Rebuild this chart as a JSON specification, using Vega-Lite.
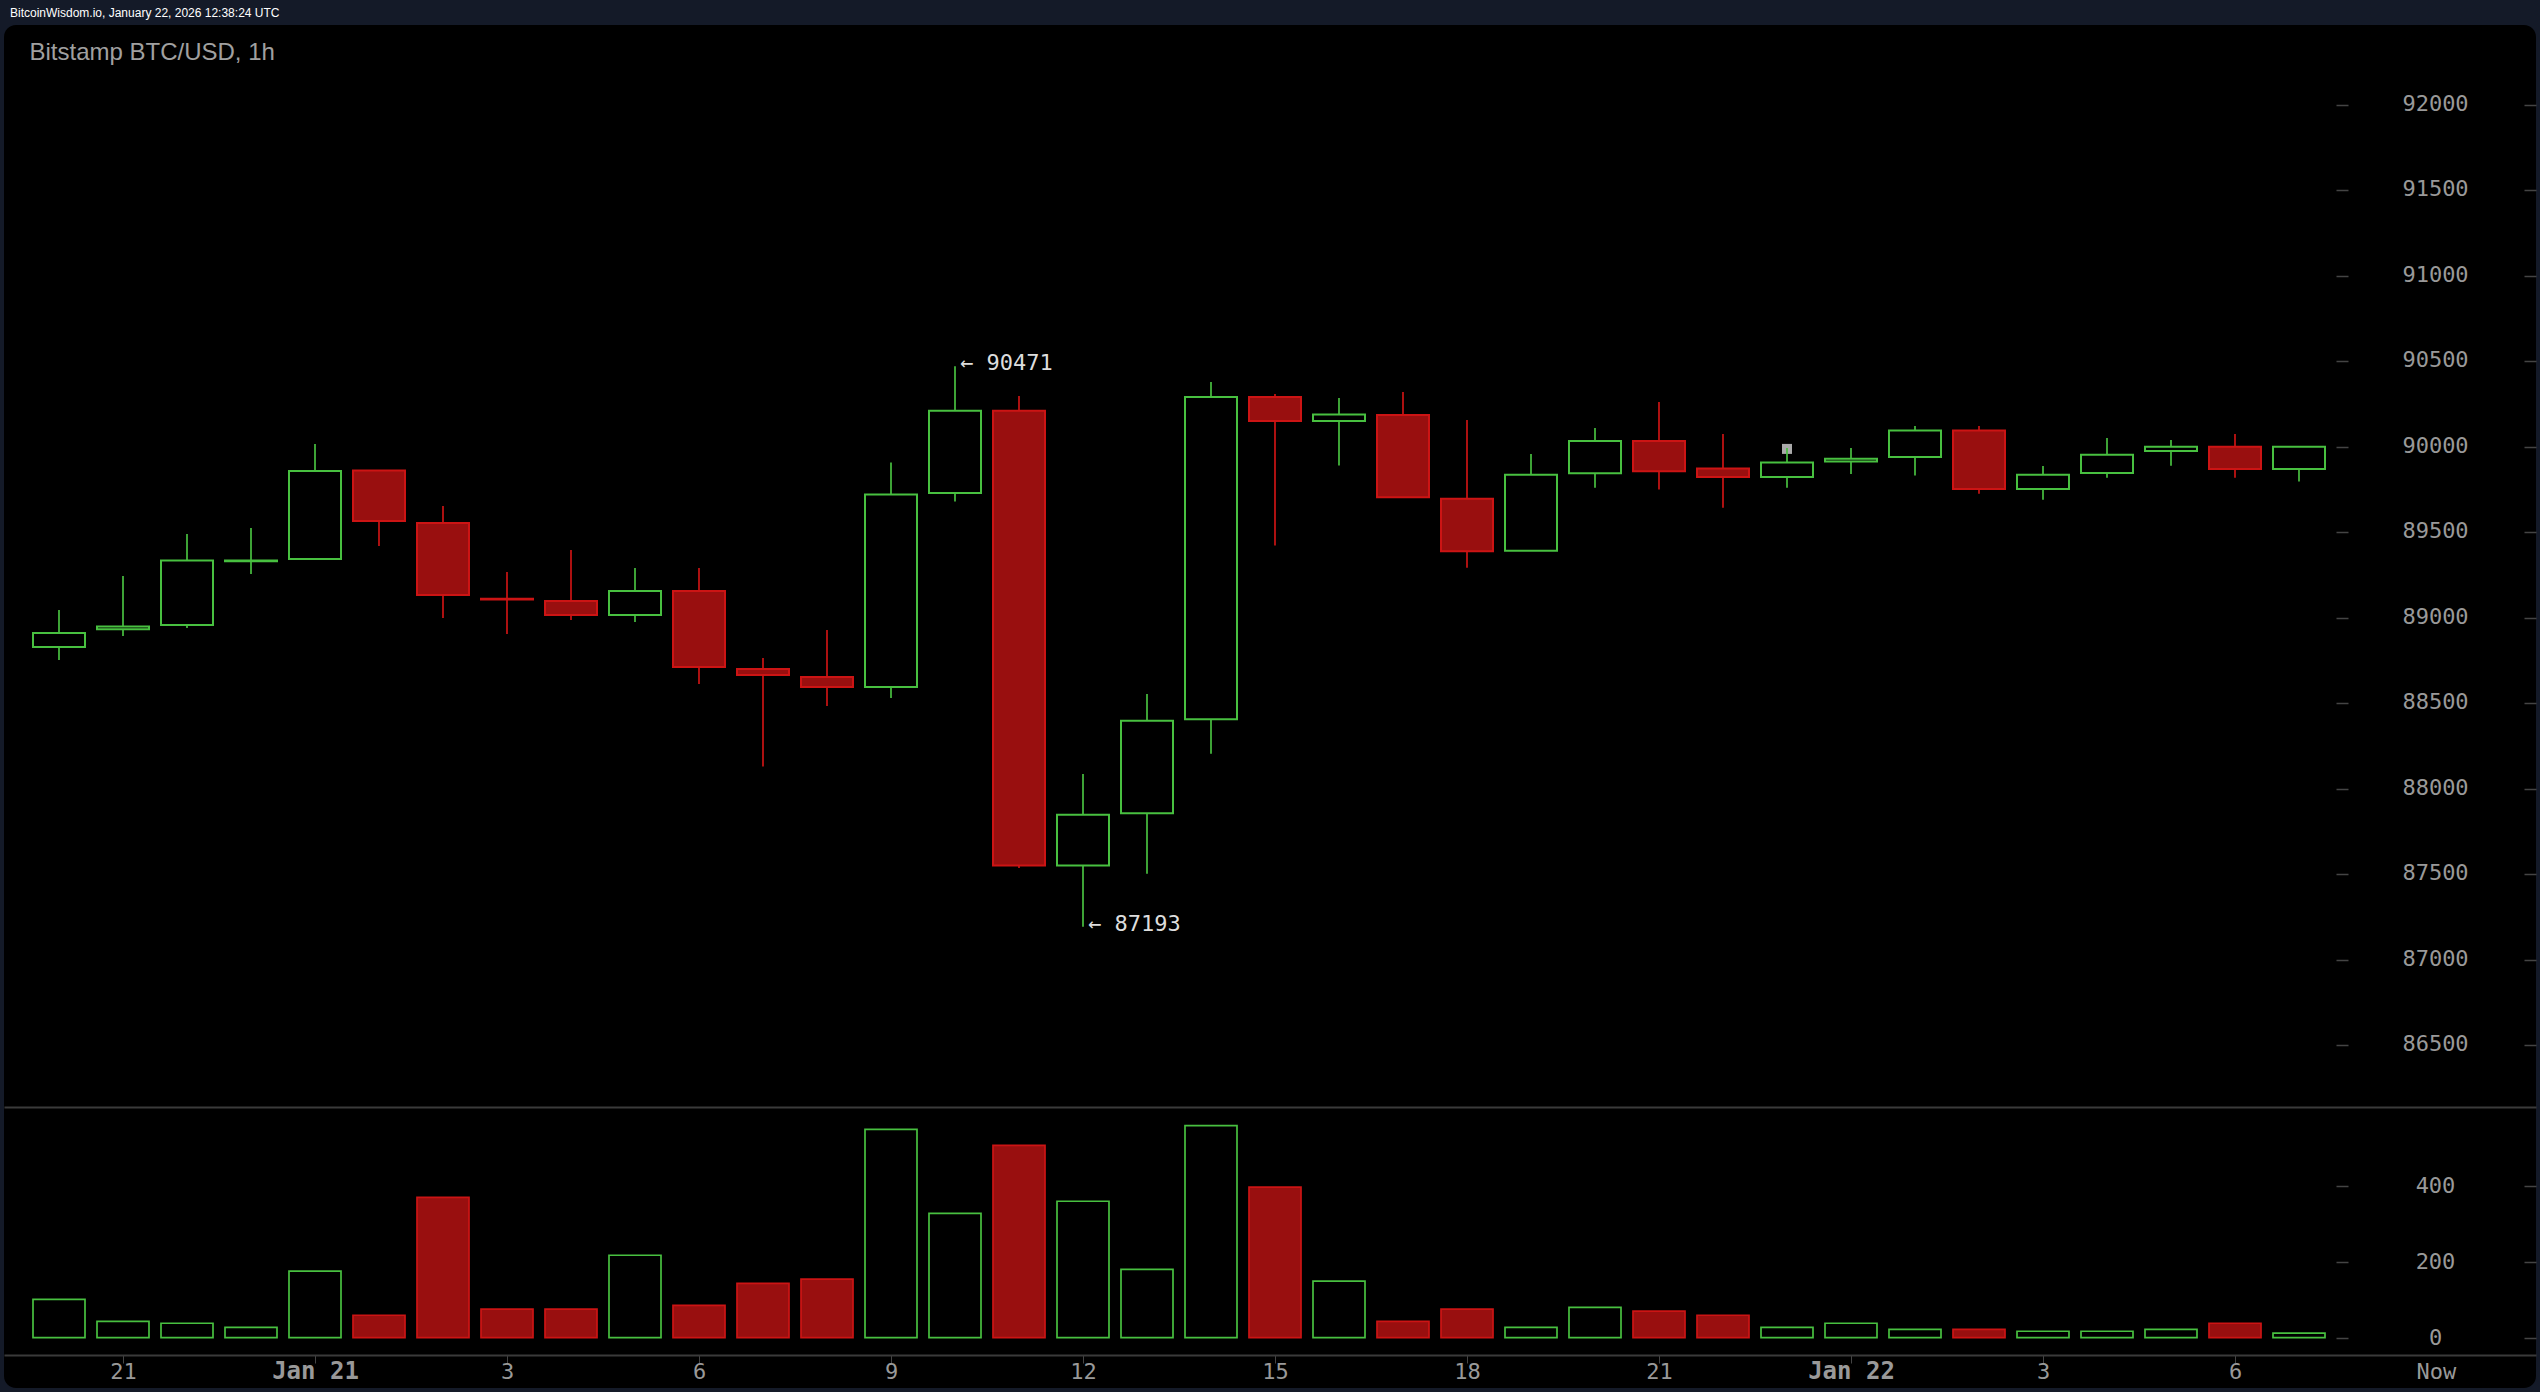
{
  "$schema": "https://vega.github.io/schema/vega-lite/v6.json",
  "autosize": "none",
  "width": 2532,
  "height": 1363,
  "padding": {"left": 4, "top": 25, "right": 4, "bottom": 4},
  "background": "#141a28",
  "view": {"fill": "#000000", "stroke": null, "cornerRadius": 12},
  "title": {
    "text": "BitcoinWisdom.io, January 22, 2026 12:38:24 UTC",
    "anchor": "start",
    "frame": "group",
    "font": "Liberation Sans",
    "fontSize": 12,
    "fontWeight": "normal",
    "color": "#ffffff",
    "dx": 6,
    "offset": 5
  },
  "config": {
    "font": "DejaVu Sans Mono",
    "axis": {"grid": false, "domain": false, "labelFont": "DejaVu Sans Mono", "labelOverlap": false, "labelBound": false, "labelFlush": false}
  },
  "datasets": {
    "candles": [
      {"t": "2026-01-20T20:00:00Z", "open": 88829, "high": 89045, "low": 88753, "close": 88911, "volume": 101},
      {"t": "2026-01-20T21:00:00Z", "open": 88932, "high": 89244, "low": 88893, "close": 88948, "volume": 43},
      {"t": "2026-01-20T22:00:00Z", "open": 88957, "high": 89489, "low": 88940, "close": 89334, "volume": 38},
      {"t": "2026-01-20T23:00:00Z", "open": 89330, "high": 89525, "low": 89256, "close": 89334, "volume": 27},
      {"t": "2026-01-21T00:00:00Z", "open": 89343, "high": 90016, "low": 89343, "close": 89858, "volume": 175},
      {"t": "2026-01-21T01:00:00Z", "open": 89860, "high": 89860, "low": 89419, "close": 89566, "volume": 59},
      {"t": "2026-01-21T02:00:00Z", "open": 89554, "high": 89653, "low": 88998, "close": 89133, "volume": 369},
      {"t": "2026-01-21T03:00:00Z", "open": 89111, "high": 89267, "low": 88905, "close": 89107, "volume": 75},
      {"t": "2026-01-21T04:00:00Z", "open": 89098, "high": 89396, "low": 88987, "close": 89016, "volume": 75},
      {"t": "2026-01-21T05:00:00Z", "open": 89016, "high": 89291, "low": 88975, "close": 89156, "volume": 217},
      {"t": "2026-01-21T06:00:00Z", "open": 89156, "high": 89291, "low": 88612, "close": 88712, "volume": 85},
      {"t": "2026-01-21T07:00:00Z", "open": 88700, "high": 88764, "low": 88130, "close": 88665, "volume": 143},
      {"t": "2026-01-21T08:00:00Z", "open": 88653, "high": 88928, "low": 88484, "close": 88595, "volume": 154},
      {"t": "2026-01-21T09:00:00Z", "open": 88594, "high": 89908, "low": 88531, "close": 89720, "volume": 548},
      {"t": "2026-01-21T10:00:00Z", "open": 89729, "high": 90471, "low": 89680, "close": 90210, "volume": 327},
      {"t": "2026-01-21T11:00:00Z", "open": 90210, "high": 90297, "low": 87536, "close": 87551, "volume": 506},
      {"t": "2026-01-21T12:00:00Z", "open": 87551, "high": 88086, "low": 87193, "close": 87847, "volume": 359},
      {"t": "2026-01-21T13:00:00Z", "open": 87856, "high": 88554, "low": 87502, "close": 88397, "volume": 180},
      {"t": "2026-01-21T14:00:00Z", "open": 88406, "high": 90378, "low": 88205, "close": 90290, "volume": 558},
      {"t": "2026-01-21T15:00:00Z", "open": 90290, "high": 90308, "low": 89422, "close": 90150, "volume": 396},
      {"t": "2026-01-21T16:00:00Z", "open": 90150, "high": 90284, "low": 89890, "close": 90188, "volume": 149},
      {"t": "2026-01-21T17:00:00Z", "open": 90185, "high": 90320, "low": 89704, "close": 89704, "volume": 43},
      {"t": "2026-01-21T18:00:00Z", "open": 89695, "high": 90156, "low": 89292, "close": 89389, "volume": 75},
      {"t": "2026-01-21T19:00:00Z", "open": 89391, "high": 89957, "low": 89391, "close": 89836, "volume": 27},
      {"t": "2026-01-21T20:00:00Z", "open": 89845, "high": 90109, "low": 89760, "close": 90033, "volume": 80},
      {"t": "2026-01-21T21:00:00Z", "open": 90033, "high": 90261, "low": 89749, "close": 89856, "volume": 70},
      {"t": "2026-01-21T22:00:00Z", "open": 89872, "high": 90074, "low": 89643, "close": 89823, "volume": 59},
      {"t": "2026-01-21T23:00:00Z", "open": 89823, "high": 89992, "low": 89760, "close": 89907, "volume": 27},
      {"t": "2026-01-22T00:00:00Z", "open": 89914, "high": 89992, "low": 89840, "close": 89930, "volume": 38},
      {"t": "2026-01-22T01:00:00Z", "open": 89940, "high": 90121, "low": 89831, "close": 90094, "volume": 22},
      {"t": "2026-01-22T02:00:00Z", "open": 90094, "high": 90121, "low": 89725, "close": 89753, "volume": 22},
      {"t": "2026-01-22T03:00:00Z", "open": 89753, "high": 89887, "low": 89690, "close": 89836, "volume": 17},
      {"t": "2026-01-22T04:00:00Z", "open": 89846, "high": 90051, "low": 89819, "close": 89953, "volume": 17},
      {"t": "2026-01-22T05:00:00Z", "open": 89975, "high": 90039, "low": 89889, "close": 90000, "volume": 22},
      {"t": "2026-01-22T06:00:00Z", "open": 90000, "high": 90074, "low": 89819, "close": 89870, "volume": 38},
      {"t": "2026-01-22T07:00:00Z", "open": 89870, "high": 90000, "low": 89796, "close": 90000, "volume": 12}
    ],
    "extremes": [
      {"t": "2026-01-21T10:00:00Z", "price": 90471, "label": "← 90471"},
      {"t": "2026-01-21T12:00:00Z", "price": 87193, "label": "← 87193"}
    ],
    "marker": [
      {"t": "2026-01-21T23:00:00Z", "price": 89987}
    ]
  },
  "data": {"name": "candles"},
  "encoding": {
    "x": {
      "field": "t",
      "type": "temporal",
      "scale": {"type": "utc", "domain": [1768936106250, 1769078531250], "nice": false, "padding": 0},
      "axis": null
    }
  },
  "layer": [
    {
      "data": {"name": "marker"},
      "mark": {"type": "square", "size": 100, "color": "#aaaaaa", "opacity": 1},
      "encoding": {
        "y": {"field": "price", "type": "quantitative", "scale": {"domain": [84495.2, 92466], "nice": false, "zero": false}, "axis": null}
      }
    },
    {
      "mark": {"type": "rule", "strokeWidth": 1.7},
      "encoding": {
        "x": {
          "field": "t",
          "type": "temporal",
          "scale": {"type": "utc", "domain": [1768936106250, 1769078531250], "nice": false, "padding": 0},
          "axis": {
            "orient": "bottom",
            "offset": -281,
            "domain": true,
            "domainColor": "#3a3a3a",
            "domainWidth": 2,
            "ticks": false,
            "labels": false,
            "title": "Bitstamp BTC/USD, 1h",
            "titleFont": "Liberation Sans",
            "titleFontSize": 24,
            "titleFontWeight": "normal",
            "titleColor": "#a0a0a0",
            "titleAngle": 0,
            "titleAlign": "left",
            "titleBaseline": "middle",
            "titleX": 25,
            "titleY": -1055
          }
        },
        "y": {
          "field": "low",
          "type": "quantitative",
          "scale": {"domain": [84495.2, 92466], "nice": false, "zero": false},
          "axis": {
            "orient": "right",
            "offset": -12,
            "values": [86500, 87000, 87500, 88000, 88500, 89000, 89500, 90000, 90500, 91000, 91500, 92000],
            "format": "d",
            "title": null,
            "tickSize": 12,
            "tickColor": "#444444",
            "tickWidth": 1.5,
            "labelAlign": "center",
            "labelPadding": -101,
            "labelOffset": -1.5,
            "labelFontSize": 22,
            "labelColor": "#999999"
          }
        },
        "y2": {"field": "high"},
        "color": {"condition": {"test": "datum.close >= datum.open", "value": "#48c040"}, "value": "#cc1414"}
      }
    },
    {
      "mark": {"type": "bar", "width": 52, "strokeWidth": 2},
      "encoding": {
        "y": {
          "field": "open",
          "type": "quantitative",
          "scale": {"domain": [84495.2, 92466], "nice": false, "zero": false},
          "axis": {
            "orient": "right",
            "offset": -200,
            "values": [86500, 87000, 87500, 88000, 88500, 89000, 89500, 90000, 90500, 91000, 91500, 92000],
            "title": null,
            "tickSize": 12,
            "tickColor": "#444444",
            "tickWidth": 1.5,
            "labels": false
          }
        },
        "y2": {"field": "close"},
        "fill": {"condition": {"test": "datum.close >= datum.open", "value": "#000000"}, "value": "#990f0f"},
        "stroke": {"condition": {"test": "datum.close >= datum.open", "value": "#48c040"}, "value": "#cc1414"}
      }
    },
    {
      "data": {"name": "extremes"},
      "mark": {"type": "text", "align": "left", "baseline": "middle", "dx": 5, "dy": -3, "font": "DejaVu Sans Mono", "fontSize": 22, "color": "#dddddd"},
      "encoding": {
        "y": {"field": "price", "type": "quantitative", "scale": {"domain": [84495.2, 92466], "nice": false, "zero": false}, "axis": null},
        "text": {"field": "label", "type": "nominal"}
      }
    },
    {
      "mark": {"type": "bar", "width": 52, "strokeWidth": 1.7},
      "encoding": {
        "x": {
          "field": "t",
          "type": "temporal",
          "scale": {"type": "utc", "domain": [1768936106250, 1769078531250], "nice": false, "padding": 0},
          "axis": {
            "orient": "bottom",
            "offset": -33,
            "domain": true,
            "domainColor": "#3a3a3a",
            "domainWidth": 2,
            "values": [1768942800000, 1768953600000, 1768964400000, 1768975200000, 1768986000000, 1768996800000, 1769007600000, 1769018400000, 1769029200000, 1769040000000, 1769050800000, 1769061600000, 1769072904000],
            "title": null,
            "tickSize": 8,
            "tickWidth": 1,
            "tickColor": {"condition": {"test": "datum.value > 1769065000000", "value": "transparent"}, "value": "#444444"},
            "labelExpr": "datum.value > 1769065000000 ? 'Now' : utchours(datum.value) === 0 ? 'Jan ' + utcdate(datum.value) : '' + utchours(datum.value)",
            "labelAlign": "center",
            "labelBaseline": "middle",
            "labelPadding": 8,
            "labelColor": "#999999",
            "labelFontSize": {"condition": {"test": "utchours(datum.value) === 0", "value": 24}, "value": 22},
            "labelFontWeight": {"condition": {"test": "utchours(datum.value) === 0", "value": "bold"}, "value": "normal"}
          }
        },
        "y": {
          "field": "volume",
          "type": "quantitative",
          "scale": {"domain": [-132.4, 3454.5], "nice": false, "zero": false},
          "axis": {
            "orient": "right",
            "offset": -12,
            "values": [0, 200, 400],
            "title": null,
            "tickSize": 12,
            "tickColor": "#444444",
            "tickWidth": 1.5,
            "labelAlign": "center",
            "labelPadding": -101,
            "labelFontSize": 22,
            "labelColor": "#999999"
          }
        },
        "fill": {"condition": {"test": "datum.close >= datum.open", "value": "#000000"}, "value": "#990f0f"},
        "stroke": {"condition": {"test": "datum.close >= datum.open", "value": "#48c040"}, "value": "#cc1414"}
      }
    },
    {
      "mark": {"type": "bar", "width": 52, "opacity": 0},
      "encoding": {
        "y": {
          "field": "volume",
          "type": "quantitative",
          "scale": {"domain": [-132.4, 3454.5], "nice": false, "zero": false},
          "axis": {
            "orient": "right",
            "offset": -200,
            "values": [0, 200, 400],
            "title": null,
            "tickSize": 12,
            "tickColor": "#444444",
            "tickWidth": 1.5,
            "labels": false
          }
        }
      }
    }
  ],
  "resolve": {
    "scale": {"y": "independent"},
    "axis": {"y": "independent", "x": "independent"}
  }
}
